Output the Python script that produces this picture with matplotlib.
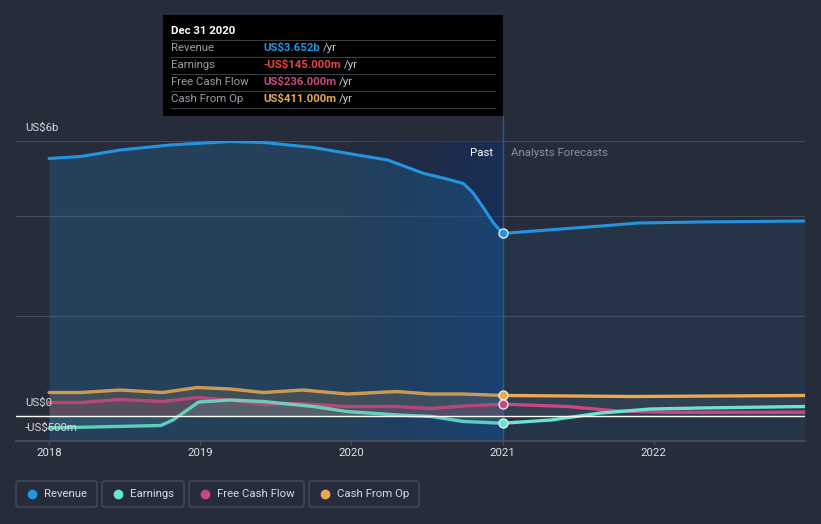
import numpy as np
import matplotlib.pyplot as plt
from matplotlib.patches import FancyBboxPatch, Rectangle
from matplotlib.colors import LinearSegmentedColormap

# data (US$ billions)
rev_x = [2018.0, 2018.21, 2018.47, 2018.80, 2019.2, 2019.42, 2019.75, 2020.0, 2020.24, 2020.48,
         2020.62, 2020.74, 2020.80, 2020.87, 2020.94, 2021.0]
rev_y = [5.15, 5.19, 5.32, 5.42, 5.49, 5.47, 5.37, 5.24, 5.12, 4.85,
         4.75, 4.65, 4.48, 4.18, 3.86, 3.652]
rev_fx = [2021.0, 2021.3, 2021.65, 2021.9, 2022.3, 2023.0]
rev_fy = [3.652, 3.72, 3.80, 3.86, 3.88, 3.90]

earn_x = [2018.0, 2018.74, 2018.82, 2018.99, 2019.2, 2019.42, 2019.75, 2019.97, 2020.31, 2020.53, 2020.74, 2021.0]
earn_y = [-0.24, -0.19, -0.08, 0.28, 0.32, 0.29, 0.19, 0.09, 0.02, -0.01, -0.11, -0.145]
earn_fx = [2021.0, 2021.32, 2021.65, 2021.98, 2022.31, 2023.0]
earn_fy = [-0.145, -0.08, 0.06, 0.14, 0.16, 0.19]

fcf_x = [2018.0, 2018.21, 2018.47, 2018.75, 2018.98, 2019.2, 2019.42, 2019.64, 2019.97, 2020.3, 2020.52, 2020.74, 2021.0]
fcf_y = [0.27, 0.27, 0.33, 0.29, 0.37, 0.32, 0.23, 0.25, 0.19, 0.19, 0.15, 0.20, 0.236]
fcf_fx = [2021.0, 2021.43, 2021.76, 2022.09, 2023.0]
fcf_fy = [0.236, 0.19, 0.10, 0.075, 0.075]

cfo_x = [2018.0, 2018.21, 2018.47, 2018.75, 2018.98, 2019.2, 2019.42, 2019.68, 2019.97, 2020.3, 2020.52, 2020.74, 2021.0]
cfo_y = [0.47, 0.47, 0.52, 0.47, 0.57, 0.54, 0.47, 0.52, 0.44, 0.49, 0.44, 0.44, 0.411]
cfo_fx = [2021.0, 2021.86, 2023.0]
cfo_fy = [0.411, 0.39, 0.41]

years = [2018, 2019, 2020, 2021, 2022]
colors = {'Revenue': '#2394df', 'Earnings': '#6ce3cf', 'Free Cash Flow': '#c9487e', 'Cash From Op': '#e8aa53'}
bg = '#262c3a'
FS = 8.2

fig = plt.figure(figsize=(8.21, 5.24), dpi=100)
fig.patch.set_facecolor(bg)
W, H = 821, 524
ax = fig.add_axes([16 / W, (H - 441) / H, 789 / W, 300 / H])
ax.set_facecolor(bg)
x0 = 2018 - 33 / 151.2
x1 = 2018 + 756 / 151.2
ax.set_xlim(x0, x1)
ax.set_ylim(-0.5, 5.5)
for s in ax.spines.values():
    s.set_visible(False)
ax.set_yticks([])
ax.set_xticks([])

# past highlight band 2020-2021
grad = np.linspace(0, 1, 256).reshape(1, -1)
cmap = LinearSegmentedColormap.from_list('band', [(0.05, 0.15, 0.35, 0.12), (0.05, 0.2, 0.45, 0.5)])
ax.imshow(grad, extent=[2020, 2021, -0.5, 5.5], aspect='auto', cmap=cmap, zorder=1)

# gridlines
for gy in [5.5, 4.0, 2.0]:
    ax.axhline(gy, color='#454b59', lw=0.8, zorder=0.5)
ax.axhline(0, color='white', lw=1.0, zorder=6)
ax.axhline(-0.5, color='#4a505e', lw=1.2, zorder=6, clip_on=False)
for yr in years:
    ax.plot([yr, yr], [-0.5, -0.56], color='#4a505e', lw=1, clip_on=False)
    ax.text(yr, -0.74, str(yr), color='#e0e2e6', fontsize=FS, ha='center', va='center', family='Roboto')

# fills
ax.fill_between(rev_x, rev_y, -0.5, color=colors['Revenue'], alpha=0.2, lw=0, zorder=2)
ax.fill_between(rev_fx, rev_fy, -0.5, color=colors['Revenue'], alpha=0.08, lw=0, zorder=2)
ax.fill_between(cfo_x, cfo_y, 0, color=colors['Cash From Op'], alpha=0.15, lw=0, zorder=2)
ax.fill_between(fcf_x, fcf_y, 0, color=colors['Free Cash Flow'], alpha=0.15, lw=0, zorder=2)
ax.fill_between(earn_x, earn_y, 0, color=colors['Earnings'], alpha=0.12, lw=0, zorder=2)
ax.fill_between(cfo_fx, cfo_fy, 0, color='#8a8f99', alpha=0.12, lw=0, zorder=2)

# lines
series = [
    ('Cash From Op', cfo_x, cfo_y, cfo_fx, cfo_fy),
    ('Free Cash Flow', fcf_x, fcf_y, fcf_fx, fcf_fy),
    ('Earnings', earn_x, earn_y, earn_fx, earn_fy),
    ('Revenue', rev_x, rev_y, rev_fx, rev_fy),
]
for name, px, py, fx_, fy_ in series:
    c = colors[name]
    lw = 2.2 if name == 'Revenue' else 2.4
    ax.plot(px, py, color=c, lw=lw, alpha=0.85 if name != 'Revenue' else 1, solid_capstyle='round', solid_joinstyle='round', zorder=4)
    ax.plot(fx_, fy_, color=c, lw=lw, solid_capstyle='round', solid_joinstyle='round', zorder=4)
    ax.plot([px[-1]], [py[-1]], 'o', ms=6.5, color=c, mec='#e6e8ec', mew=1.0, zorder=7)

# divider line at 2021
ax.plot([2021, 2021], [-0.5, 5.5], color='#2a5a9a', lw=1.0, zorder=3)
ax.plot([2021, 2021], [5.5, 6.0], color='#2a5a9a', lw=1.0, zorder=3, clip_on=False)

# past / forecast labels
ax.text(2021 - 9 / 151.2, 5.26, 'Past', color='white', fontsize=FS, ha='right', va='center', family='Roboto')
ax.text(2021 + 8 / 151.2, 5.26, 'Analysts Forecasts', color='#8a8f99', fontsize=FS, ha='left', va='center', family='Roboto')

# y labels
def fy(py):
    return (H - py) / H
def fx(px):
    return px / W

fig.text(fx(25), fy(128), 'US$6b', color='#d8dadf', fontsize=FS, va='center', family='Roboto')
fig.text(fx(25), fy(403), 'US$0', color='#d8dadf', fontsize=FS, va='center', family='Roboto', zorder=1)
fig.text(fx(25), fy(428), '-US$500m', color='#d8dadf', fontsize=FS, va='center', family='Roboto', zorder=1)

# tooltip box
fig.patches.append(Rectangle((fx(163), fy(116)), (503 - 163) / W, (116 - 15) / H, transform=fig.transFigure, facecolor='black', edgecolor='none', zorder=10))
fig.text(fx(171), fy(31), 'Dec 31 2020', color='white', fontsize=FS, fontweight='bold', va='center', family='Roboto', zorder=11)
rows = [('Revenue', 'US$3.652b', '#2394df'), ('Earnings', '-US$145.000m', '#e8433f'),
        ('Free Cash Flow', 'US$236.000m', '#c9487e'), ('Cash From Op', 'US$411.000m', '#e8aa53')]
for i, (lab, val, c) in enumerate(rows):
    yy = 48 + 17 * i
    line_y = yy - 8.5
    fig.lines.append(plt.Line2D([fx(171), fx(495)], [fy(line_y), fy(line_y)], transform=fig.transFigure, color='#3a3d44', lw=0.8, zorder=11))
    fig.text(fx(171), fy(yy), lab, color='#9a9ea6', fontsize=FS, va='center', family='Roboto', zorder=11)
    t = fig.text(fx(263), fy(yy), val, color=c, fontsize=FS, fontweight='bold', va='center', family='Roboto', zorder=11)
    fig.canvas.draw()
    bb = t.get_window_extent()
    fig.text(bb.x1 / W + 3 / W, fy(yy), '/yr', color='#c8cbd1', fontsize=FS, va='center', family='Roboto', zorder=11)
fig.lines.append(plt.Line2D([fx(171), fx(495)], [fy(108), fy(108)], transform=fig.transFigure, color='#3a3d44', lw=0.8, zorder=11))

# legend
legend = [('Revenue', 16, 97), ('Earnings', 102, 184), ('Free Cash Flow', 189, 304), ('Cash From Op', 309, 419)]
for name, l, r in legend:
    box = FancyBboxPatch((fx(l), fy(507)), (r - l) / W, 26 / H, boxstyle='round,pad=0,rounding_size=0.004',
                         transform=fig.transFigure, facecolor=bg, edgecolor='#4a505e', lw=0.9)
    fig.patches.append(box)
    fig.lines.append(plt.Line2D([fx(l + 16)], [fy(494)], transform=fig.transFigure, marker='o', ms=6, color=colors[name], lw=0))
    fig.text(fx(l + 28), fy(494), name, color='#d8dadf', fontsize=FS, va='center', family='Roboto')

fig.savefig('out.png', dpi=100, facecolor=bg)
